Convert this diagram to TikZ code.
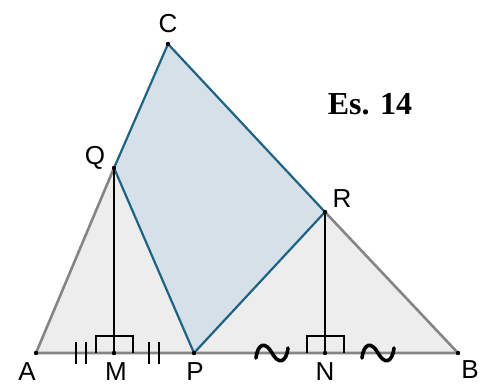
\documentclass[tikz,border=0pt]{standalone}
\usepackage{fontspec}
\setmainfont{Liberation Sans}
\newfontfamily\esfont{Liberation Serif}
\usepackage{tikz}
\usetikzlibrary{calc}
\definecolor{triFill}{HTML}{EDEDED}
\definecolor{triEdge}{HTML}{858585}
\definecolor{quadFill}{HTML}{D5E0E9}
\definecolor{quadEdge}{HTML}{1E6383}

\begin{document}
\begin{tikzpicture}[x=0.5pt,y=-0.5pt,
  lbl/.style={font=\fontsize{13}{15}\selectfont,inner sep=0pt},
  side/.style={triEdge,line width=1.3pt},
  quad/.style={quadEdge,line width=1.1pt,line join=round},
  perp/.style={black,line width=0.6pt},
  tick/.style={black,line width=1.3pt},
  tilde/.style={black,line width=1.8pt,line cap=round}]
  \useasboundingbox (0,0) rectangle (488,385);
  % vertices
  \coordinate (A) at (36,353);
  \coordinate (B) at (458,353);
  \coordinate (C) at (168,44);
  \coordinate (Q) at (114,168);
  \coordinate (R) at (325,212);
  \coordinate (M) at (114,353);
  \coordinate (P) at (194,353);
  \coordinate (N) at (325,353);
  % fills
  \fill[triFill] (A)--(B)--(C)--cycle;
  \fill[quadFill] (Q)--(C)--(R)--(P)--cycle;
  \draw[side] (A)--(Q) (R)--(B) (A)--(B);
  \draw[quad] (Q)--(C)--(R)--(P)--cycle;
  \draw[perp] (Q)--(M) (R)--(N);
  % right angles
  \foreach \foot in {M,N}
    \draw[perp] ($(\foot)+(-18,0)$) -- ++(0,-17) -- ++(37,0) -- ++(0,17);
  % equal marks
  \foreach \c in {81,154}
    \foreach \dx in {-5,5}
      \draw[tick] (\c+\dx,342) -- (\c+\dx,364);
  \foreach \c in {272,378}
    \draw[tilde] (\c-16,358) .. controls (\c-14,342) and (\c-6,342) .. (\c,353)
      .. controls (\c+6,364) and (\c+14,364) .. (\c+16,348);
  % points
  \foreach \p in {A,B,C,Q,R,M,N,P}
    \fill (\p) circle (2.2);
  % labels
  \node[lbl] (lA) at (27,372) {A};
  \node[lbl] (lB) at (470,370) {B};
  \node[lbl] (lC) at (168,24) {C};
  \node[lbl] (lQ) at (95,158) {Q};
  \node[lbl] (lR) at (342,199) {R};
  \node[lbl] (lM) at (116,372) {M};
  \node[lbl] (lP) at (195,372) {P};
  \node[lbl] (lN) at (325,372) {N};
  \node[font=\esfont\bfseries\fontsize{16}{18}\selectfont,inner sep=0pt] (es) at (370,104) {Es. 14};
\end{tikzpicture}
\end{document}
